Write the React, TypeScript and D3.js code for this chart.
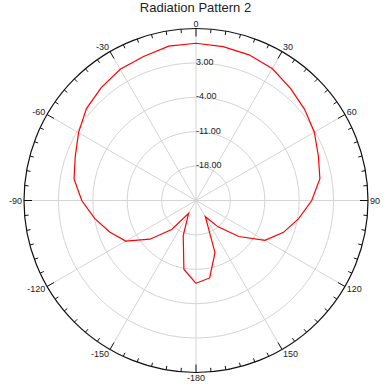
import React, { useEffect, useRef } from "react";
import * as d3 from "d3";

// pattern data (dB vs azimuth in degrees)
const angles = [
  -180, -170, -160, -150, -140, -130, -120, -110, -100, -90, -80, -70, -60,
  -50, -40, -30, -20, -10, 0, 10, 20, 30, 40, 50, 60, 70, 80, 90, 100, 110,
  120, 130, 140, 150, 160, 170, 180,
];
const gain = [
  -8.15, -10.8, -17.4, -22.0, -17.3, -12.75, -8.5, -6.3, -4.05, -1.75, 0.2,
  1.15, 2.6, 4.1, 5.0, 5.85, 6.2, 6.9, 7.0, 6.8, 6.55, 6.0, 4.85, 3.85, 2.8,
  1.5, 0.6, -1.45, -3.8, -6.05, -8.8, -13.6, -18.0, -21.2, -13.7, -9.0, -8.15,
];

const ringValues = [-18, -11, -4, 3];
const ringLabels = ["-18.00", "-11.00", "-4.00", "3.00"];
const angleLabels = [0, 30, 60, 90, 120, 150, -180, -150, -120, -90, -60, -30];
const spokeAngles = [0, 30, 60, 90, 120, 150, 180, 210, 240, 270, 300, 330];

const font = "'Liberation Sans', Arial, sans-serif";

export default function App() {
  const ref = useRef<SVGSVGElement>(null);

  useEffect(() => {
    const width = 387,
      height = 389;
    const cx = 196,
      cy = 200.5,
      R = 172;

    const svg = d3.select(ref.current);
    svg.selectAll("*").remove();

    const r = d3.scaleLinear().domain([-25, 10]).range([0, R]);
    const rad = (a: number) => (a * Math.PI) / 180;
    const px = (a: number, rr: number) => cx + rr * Math.sin(rad(a));
    const py = (a: number, rr: number) => cy - rr * Math.cos(rad(a));

    svg
      .append("text")
      .attr("x", width / 2 + 2)
      .attr("y", 12)
      .attr("text-anchor", "middle")
      .style("font-family", font)
      .style("font-size", "13px")
      .style("fill", "#222")
      .text("Radiation Pattern 2");

    const g = svg.append("g");

    // grid rings
    g.selectAll(".ring")
      .data(ringValues)
      .enter()
      .append("circle")
      .attr("cx", cx)
      .attr("cy", cy)
      .attr("r", (d) => r(d))
      .attr("fill", "none")
      .attr("stroke", "#d4d4d4")
      .attr("stroke-width", 1);

    // spokes
    g.selectAll(".spoke")
      .data(spokeAngles)
      .enter()
      .append("line")
      .attr("x1", cx)
      .attr("y1", cy)
      .attr("x2", (d) => px(d, R))
      .attr("y2", (d) => py(d, R))
      .attr("stroke", "#d4d4d4")
      .attr("stroke-width", 1);

    // outer circle
    g.append("circle")
      .attr("cx", cx)
      .attr("cy", cy)
      .attr("r", R)
      .attr("fill", "none")
      .attr("stroke", "#111")
      .attr("stroke-width", 1.2);

    // ticks every 5 degrees, inward
    const ticks = d3.range(0, 360, 5);
    g.selectAll(".tick")
      .data(ticks)
      .enter()
      .append("line")
      .attr("x1", (d) => px(d, R))
      .attr("y1", (d) => py(d, R))
      .attr("x2", (d) => px(d, R - (d % 30 === 0 ? 8 : 4)))
      .attr("y2", (d) => py(d, R - (d % 30 === 0 ? 8 : 4)))
      .attr("stroke", "#111")
      .attr("stroke-width", 1);

    // angle labels
    g.selectAll(".alabel")
      .data(angleLabels)
      .enter()
      .append("text")
      .attr("x", (d) => px(d, R + 2))
      .attr("y", (d) => py(d, R + 5))
      .attr("dy", "0.35em")
      .attr("text-anchor", (d) => {
        const s = Math.sin(rad(d));
        return Math.abs(s) < 0.01 ? "middle" : s > 0 ? "start" : "end";
      })
      .style("font-family", font)
      .style("font-size", "9px")
      .style("fill", "#222")
      .text((d) => String(d));

    // ring labels
    g.selectAll(".rlabel")
      .data(ringValues)
      .enter()
      .append("text")
      .attr("x", cx)
      .attr("y", (d) => cy - r(d) - 1)
      .attr("dy", "0.35em")
      .style("font-family", font)
      .style("font-size", "9px")
      .style("fill", "#222")
      .text((d, i) => ringLabels[i]);

    // pattern
    const pts: [number, number][] = angles.map((a, i) => [rad(a), r(gain[i])]);
    const line = d3.lineRadial().curve(d3.curveLinear);
    g.append("path")
      .attr("transform", `translate(${cx}, ${cy})`)
      .attr("d", line(pts))
      .attr("fill", "none")
      .attr("stroke", "#ff0000")
      .attr("stroke-width", 1.2);
  }, []);

  return (
    <svg
      ref={ref}
      width={387}
      height={389}
      style={{ position: "absolute", left: 0, top: 0, background: "#fff" }}
    ></svg>
  );
}
